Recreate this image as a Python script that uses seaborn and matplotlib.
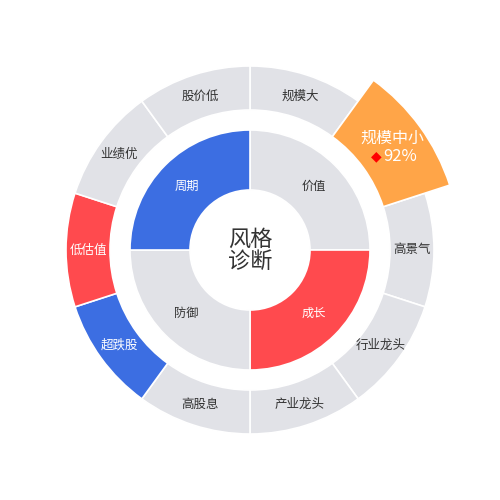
import matplotlib
matplotlib.use("Agg")
import matplotlib.pyplot as plt
import seaborn as sns
import numpy as np

# inner ring: style groups (clockwise from 12 o'clock)
inner_labels = ["价值", "成长", "防御", "周期"]
inner_share = [1, 1, 1, 1]
inner_state = ["none", "red", "none", "blue"]

# outer ring: style factors (clockwise from 12 o'clock)
outer_labels = ["规模大", "规模中小", "高景气", "行业龙头", "产业龙头",
                "高股息", "超跌股", "低估值", "业绩优", "股价低"]
outer_share = [1, 1, 1, 1, 1, 1, 1, 1, 1, 1]
outer_state = ["none", "orange", "none", "none", "none",
               "none", "blue", "red", "none", "none"]

center_title = "风格\n诊断"
highlight_label = "规模中小"
highlight_score = "92%"

sns.set_theme(style="white")
plt.rcParams['font.family'] = ['Noto Sans CJK SC', 'DejaVu Sans']

palette = {"none": "#e1e2e7", "blue": "#3c6ee2", "red": "#ff4a4e", "orange": "#ffa548"}
txt_col = {"none": "#333333", "blue": "white", "red": "white", "orange": "white"}

fig = plt.figure(figsize=(5, 5), dpi=100)
ax = fig.add_axes([0, 0, 1, 1])

# inner ring
w_in, _ = ax.pie(inner_share, radius=120, startangle=90, counterclock=False,
                 colors=[palette[s] for s in inner_state],
                 wedgeprops=dict(width=60, edgecolor="white", linewidth=1.2))
for w, lab, st in zip(w_in, inner_labels, inner_state):
    a = np.deg2rad((w.theta1 + w.theta2) / 2)
    ax.text(90 * np.cos(a), 90 * np.sin(a), lab, ha="center", va="center",
            fontsize=8.8, color=txt_col[st])

# outer ring
w_out, _ = ax.pie(outer_share, radius=184, startangle=90, counterclock=False,
                  colors=[palette[s] for s in outer_state],
                  wedgeprops=dict(width=44, edgecolor="white", linewidth=1.2))
for w, lab, st in zip(w_out, outer_labels, outer_state):
    a = np.deg2rad((w.theta1 + w.theta2) / 2)
    if lab == highlight_label:
        # highlighted factor pops out of the ring
        w.set_radius(210)
        w.set_width(70)
        w.set_zorder(3)
        cx, cy = 168 * np.cos(a), 168 * np.sin(a)
        ax.text(cx + 6, cy + 13, lab, ha="center", va="center",
                fontsize=11.5, color="white", zorder=4)
        ax.text(cx - 4, cy - 5, "◆", ha="right", va="center",
                fontsize=10, color="#ff0000", zorder=4, family="DejaVu Sans")
        ax.text(cx - 3, cy - 5, highlight_score, ha="left", va="center",
                fontsize=12, color="white", zorder=4)
        continue
    ax.text(162 * np.cos(a), 162 * np.sin(a), lab, ha="center", va="center",
            fontsize=9, color=txt_col[st])

ax.text(0, 0, center_title, ha="center", va="center", fontsize=16,
        color="#333333", linespacing=0.95)

ax.set_xlim(-250, 250)
ax.set_ylim(-250, 250)
ax.set_aspect("equal")
ax.axis("off")

fig.savefig("out.png", dpi=100)
